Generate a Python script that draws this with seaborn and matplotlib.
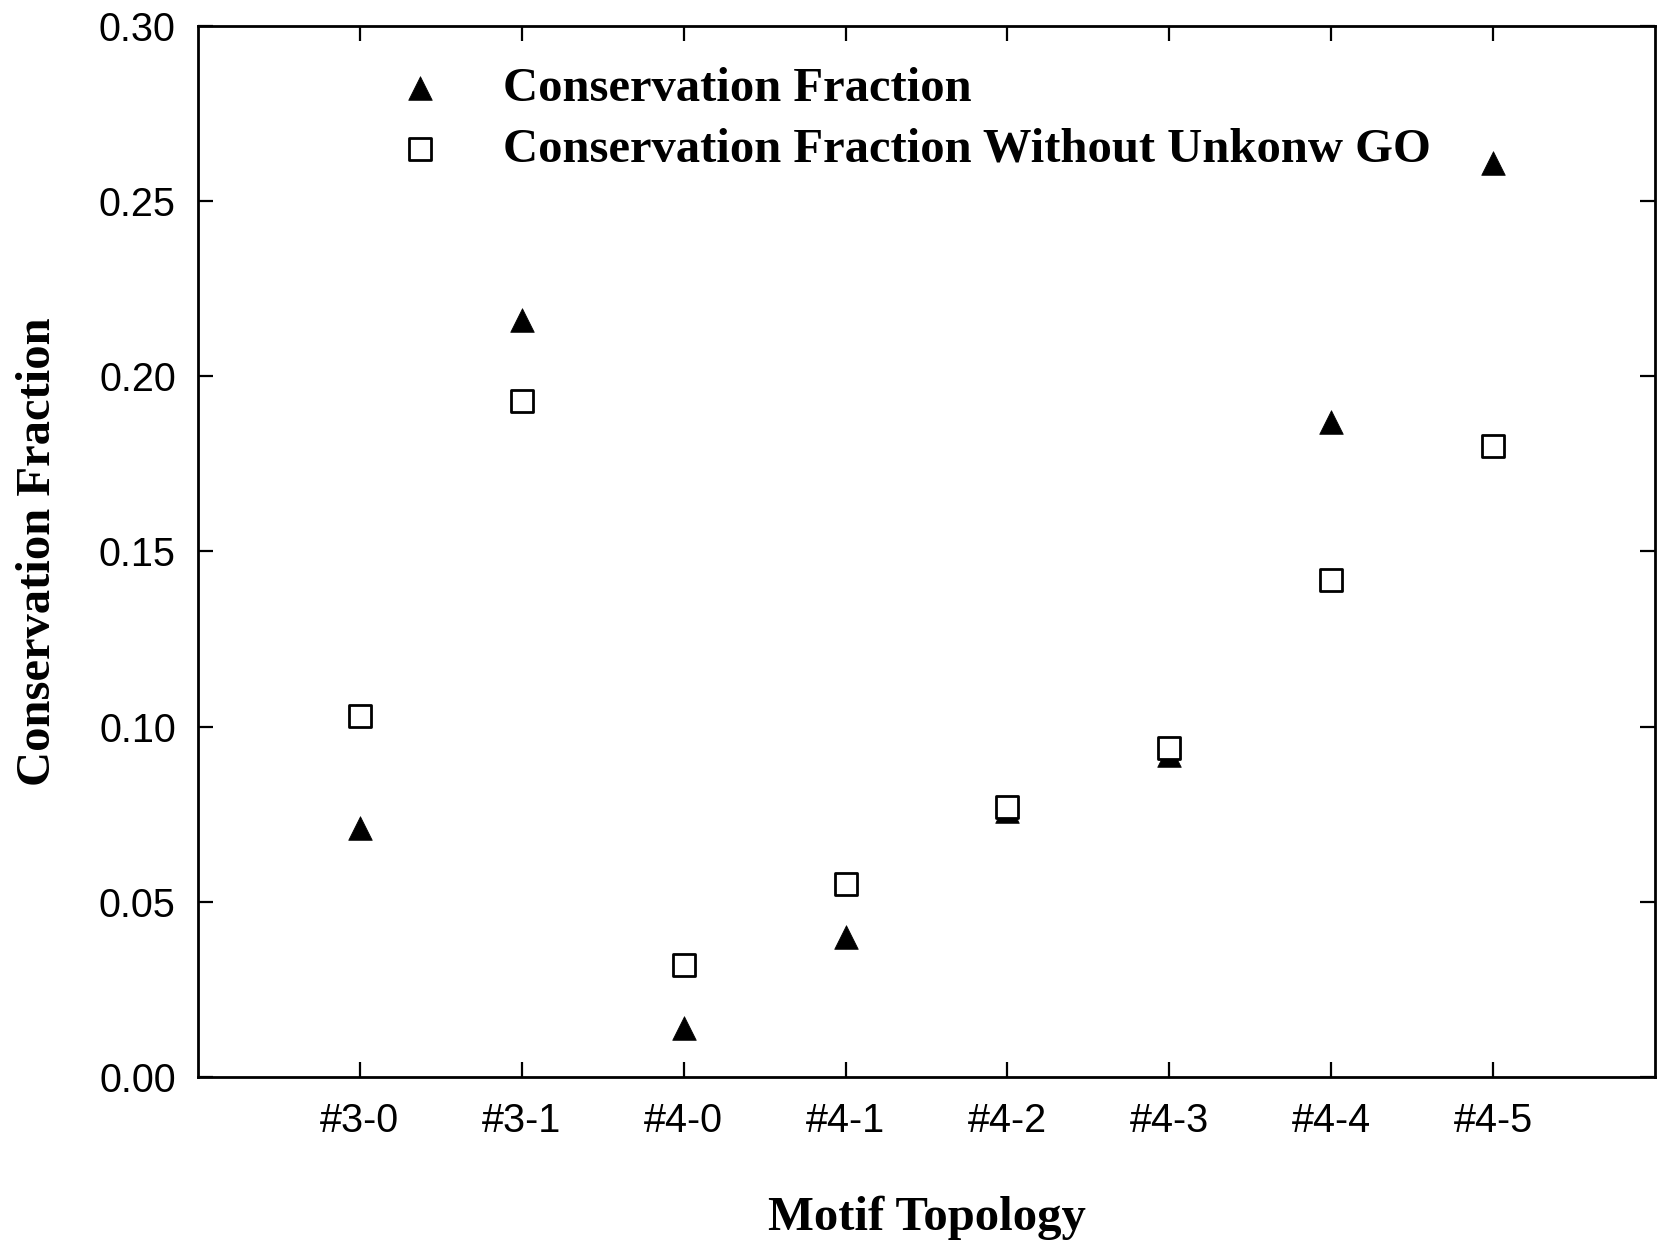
import matplotlib
matplotlib.use("Agg")
import matplotlib.pyplot as plt
import seaborn as sns
import pandas as pd

categories = ['#3-0', '#3-1', '#4-0', '#4-1', '#4-2', '#4-3', '#4-4', '#4-5']
cons_fraction = [0.071, 0.216, 0.014, 0.040, 0.076, 0.092, 0.187, 0.261]
cons_fraction_wo = [0.103, 0.193, 0.032, 0.055, 0.077, 0.094, 0.142, 0.180]
series_names = ['Conservation Fraction', 'Conservation Fraction Without Unkonw GO']
y_ticks = [0.00, 0.05, 0.10, 0.15, 0.20, 0.25, 0.30]

df1 = pd.DataFrame({'topology': categories, 'value': cons_fraction})
df2 = pd.DataFrame({'topology': categories, 'value': cons_fraction_wo})

sns.set_style('white')
plt.rcParams['font.family'] = ['Liberation Sans', 'DejaVu Sans']
plt.rcParams['text.color'] = 'black'
plt.rcParams['axes.labelcolor'] = 'black'
plt.rcParams['xtick.color'] = 'black'
plt.rcParams['ytick.color'] = 'black'

fig = plt.figure(figsize=(16.6, 12.4), dpi=100)
ax = fig.add_axes([0.1193, 0.1315, 0.997 - 0.1193, 0.979 - 0.1315])

sns.scatterplot(data=df1, x='topology', y='value', marker='^', s=290,
                color='black', edgecolor='black', linewidth=0.5,
                label=series_names[0], ax=ax, zorder=3)
sns.scatterplot(data=df2, x='topology', y='value', marker='s', s=240,
                facecolor='white', edgecolor='black', linewidth=2.0,
                label=series_names[1], ax=ax, zorder=4)

ax.set_xlim(-1, len(categories))
ax.set_ylim(0, 0.30)
ax.set_xticks(range(len(categories)))
ax.set_xticklabels(categories)
ax.set_yticks(y_ticks)
ax.set_yticklabels([f'{v:.2f}' for v in y_ticks])

for sp in ax.spines.values():
    sp.set_visible(True)
    sp.set_color('black')
    sp.set_linewidth(2.0)

ax.tick_params(axis='both', which='major', direction='in', length=11, width=1.6,
               color='black', labelcolor='black', labelsize=28.5, top=True, right=True,
               bottom=True, left=True)
ax.tick_params(axis='x', pad=18)
ax.tick_params(axis='y', pad=16)

label_font = dict(family=['Liberation Serif', 'DejaVu Serif'], weight='bold', size=35,
                  color='black')
ax.set_xlabel('Motif Topology', fontdict=label_font, labelpad=40)
ax.set_ylabel('Conservation Fraction', fontdict=label_font, labelpad=28)

handles, labels = ax.get_legend_handles_labels()
leg = ax.legend(handles, labels, loc='upper left', bbox_to_anchor=(0.136, 0.961),
                frameon=False, borderpad=0, borderaxespad=0,
                handlelength=1.0, handletextpad=1.2, labelspacing=0.34,
                prop=dict(family=['Liberation Serif', 'DejaVu Serif'], weight='bold', size=35))
for t in leg.get_texts():
    t.set_color('black')

fig.savefig('out.png', dpi=100)
